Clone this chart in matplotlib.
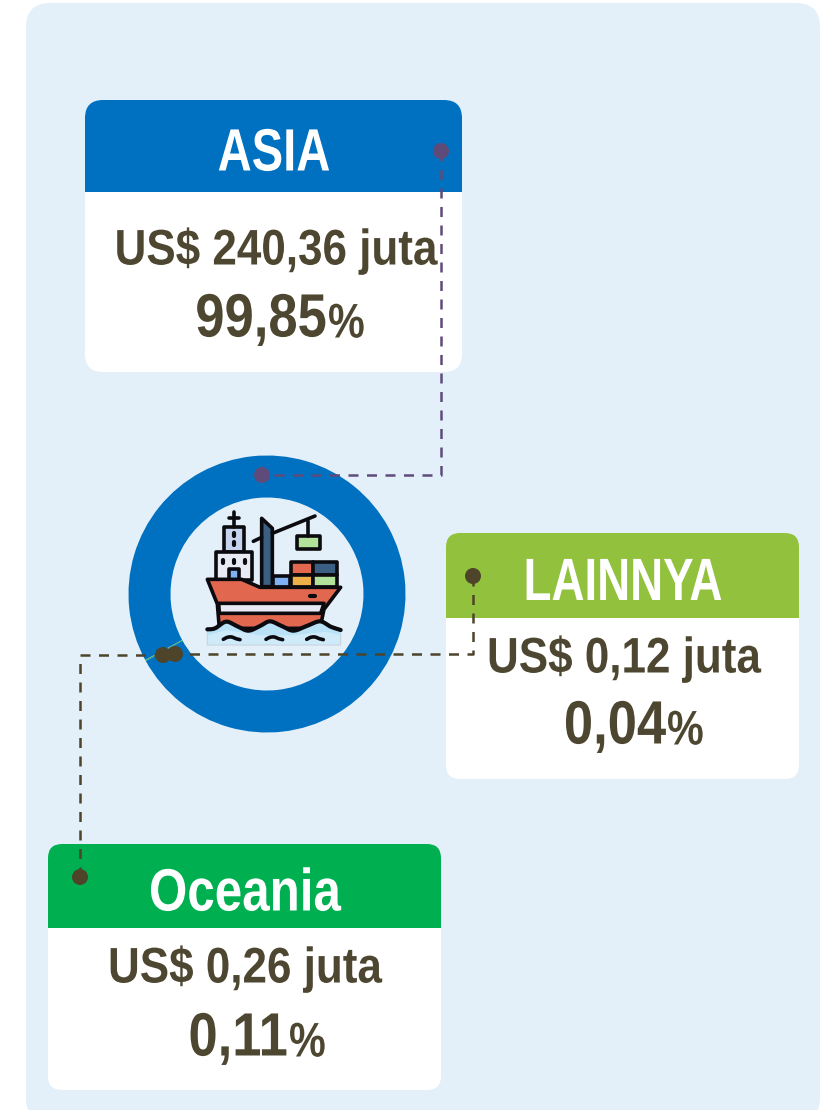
import numpy as np
import matplotlib
matplotlib.use('Agg')
import matplotlib.pyplot as plt
from matplotlib.patches import FancyBboxPatch, Rectangle, Polygon, Circle
from matplotlib.lines import Line2D
from matplotlib.patheffects import AbstractPathEffect
from matplotlib.transforms import Affine2D

# Data
regions = ['Oceania', 'LAINNYA', 'ASIA']
values = [0.26, 0.12, 240.36]
values_text = ['US$ 0,26 juta', 'US$ 0,12 juta', 'US$ 240,36 juta']
shares = ['0,11', '0,04', '99,85']
slice_colors = ['#00B050', '#92C13E', '#0070C0']

plt.rcParams['font.family'] = ['Liberation Sans', 'DejaVu Sans']

TEXT = '#4D4630'
DARK = '#4D4429'
PURPLE = '#5F4B7A'
BG = '#E3F0FA'
INK = '#0B0B0F'

fig = plt.figure(figsize=(8.21, 11.10), dpi=100)
ax = fig.add_axes([0, 0, 1, 1])
ax.set_xlim(0, 821)
ax.set_ylim(1110, 0)


class Squeeze(AbstractPathEffect):
    # the reference font is condensed, none is installed, so narrow the glyphs around x0
    def __init__(self, x0, s):
        super().__init__()
        self.x0 = ax.transData.transform((x0, 0))[0]
        self.s = s

    def draw_path(self, renderer, gc, tpath, affine, rgbFace=None):
        squeeze = Affine2D().translate(-self.x0, 0).scale(self.s, 1).translate(self.x0, 0)
        renderer.draw_path(gc, tpath, affine + squeeze, rgbFace)


def label(x, y, s, size, color, ha, squeeze):
    t = ax.text(x, y, s, color=color, fontsize=size, fontweight='bold', ha=ha, va='center', zorder=3)
    t.set_path_effects([Squeeze(x, squeeze)])


# background panel
ax.add_patch(FancyBboxPatch((26 + 24, 3 + 24), 794 - 48, 1119 - 48, boxstyle='round,pad=24,rounding_size=24',
                            fc=BG, ec='none', zorder=0))

# left, top, right, bottom, header bottom, radius, header x, header squeeze, value x, value y, share y, share x
cards = {
    'ASIA': (85, 100, 462, 372, 192, 18, 274, 0.79, 276, 251, 321, 327),
    'LAINNYA': (446, 533, 799, 779, 618, 14, 623, 0.765, 624, 659, 728, 666),
    'Oceania': (48, 844, 441, 1090, 928, 14, 245, 0.826, 245, 969, 1040, 288),
}

for i, name in enumerate(regions):
    l, t, r, b, hb, rad, hx, hs, vx, vy, sy, sx = cards[name]
    ax.add_patch(FancyBboxPatch((l + rad, t + rad), r - l - 2 * rad, b - t - 2 * rad,
                                boxstyle=f'round,pad={rad},rounding_size={rad}',
                                fc='white', ec='none', zorder=1))
    head = FancyBboxPatch((l + rad, t + rad), r - l - 2 * rad, b - t - 2 * rad,
                          boxstyle=f'round,pad={rad},rounding_size={rad}',
                          fc=slice_colors[i], ec='none', zorder=2)
    ax.add_patch(head)
    head.set_clip_path(Rectangle((l, t), r - l, hb - t, transform=ax.transData))
    label(hx, (t + hb) / 2 + 9, name, 43, 'white', 'center', hs)
    label(vx, vy, values_text[i], 36, TEXT, 'center', 0.88)
    label(sx, sy, shares[i], 44, TEXT, 'right', 0.86)
    label(sx + 1, sy + 4, '%', 35, TEXT, 'left', 0.85)

# donut
ax.pie(values, colors=slice_colors, startangle=151, counterclock=True, center=(267, 594), radius=138.5,
       wedgeprops=dict(width=42, edgecolor='none'), frame=True)
ax.set_xlim(0, 821)
ax.set_ylim(1110, 0)
ax.set_aspect('auto')
ax.axis('off')


def z(pts):
    # icon points are in 3x crop coordinates
    return [(120 + x / 3, 450 + y / 3) for x, y in pts]


def smooth(pts, n=12):
    # catmull-rom through the points, for the icon's wave
    p = np.array(pts, dtype=float)
    p = np.vstack([p[0], p, p[-1]])
    out = []
    for i in range(1, len(p) - 2):
        for u in np.linspace(0, 1, n, endpoint=False):
            out.append(0.5 * (2 * p[i] + (p[i + 1] - p[i - 1]) * u
                              + (2 * p[i - 1] - 5 * p[i] + 4 * p[i + 1] - p[i + 2]) * u ** 2
                              + (3 * p[i] - p[i - 1] - 3 * p[i + 1] + p[i + 2]) * u ** 3))
    out.append(p[-1])
    return [tuple(q) for q in out]


def poly(pts, fc, lw=2.6, ec=INK, zorder=5):
    ax.add_patch(Polygon(z(pts), closed=True, fc=fc, ec=ec, lw=lw, joinstyle='round', zorder=zorder))


def stroke(pts, lw=2.6, color=INK):
    xy = z(pts)
    ax.add_line(Line2D([p[0] for p in xy], [p[1] for p in xy], color=color, lw=lw,
                       solid_capstyle='round', solid_joinstyle='round', zorder=7))


# ship icon
poly([(312, 232), (372, 232), (372, 305), (312, 305)], '#C5D3EC')
poly([(288, 305), (396, 305), (396, 390), (288, 390)], '#E8EBF3')
poly([(328, 358), (358, 358), (358, 390), (328, 390)], '#7FB2F5')
poly([(425, 205), (457, 235), (457, 410), (425, 410)], '#3A5F82')
poly([(460, 378), (510, 378), (510, 410), (460, 410)], '#7FB2F5')
poly([(512, 335), (580, 335), (580, 375), (512, 375)], '#E2674F')
poly([(580, 335), (650, 335), (650, 375), (580, 375)], '#3A5F82')
poly([(512, 375), (580, 375), (580, 410), (512, 410)], '#EDAF48')
poly([(580, 375), (650, 375), (650, 410), (580, 410)], '#B2E29A')
poly([(530, 258), (600, 258), (600, 298), (530, 298)], '#B2E29A')
poly([(262, 388), (365, 388), (420, 412), (662, 412), (612, 478), (600, 535), (298, 535), (292, 462)], '#E2674F')
poly([(296, 460), (612, 460), (602, 490), (298, 490)], '#E8EBF3')

wave = [(262, 538), (285, 535), (318, 515), (350, 528), (385, 542), (420, 528), (450, 514),
        (485, 528), (520, 542), (560, 528), (600, 514), (632, 530), (662, 540)]
wave_smooth = smooth(wave)
poly(wave_smooth + [(662, 585), (262, 585)], '#CFEBFA', lw=0.8, ec='#C8D4DC', zorder=6)
poly(wave_smooth[:-1] + [(662, 556), (620, 545), (520, 556), (420, 556), (320, 540), (262, 556)],
     '#B9E2F7', lw=0, ec='none', zorder=6)

stroke(wave_smooth, lw=3)
stroke([(342, 185), (342, 232)])
stroke([(326, 205), (358, 205)])
stroke([(400, 274), (425, 262)])
stroke([(457, 250), (585, 198)])
stroke([(565, 212), (565, 258)])
stroke([(342, 250), (342, 258)], lw=3)
stroke([(342, 275), (342, 285)], lw=3)
for px in (310, 342, 374):
    stroke([(px, 330), (px, 338)], lw=3)
stroke([(570, 437), (586, 437)], lw=3)
for px in (310, 438, 560):
    stroke(smooth([(px, 568), (px + 12, 562), (px + 25, 561), (px + 38, 566), (px + 50, 569)], n=4))

# connector lines
dash = (0, (4, 3.4))
ax.add_line(Line2D([441, 441, 262], [151, 475, 475], color=PURPLE, lw=1.8, ls=dash, zorder=8))
ax.add_line(Line2D([473, 473, 175], [576, 654, 654], color=DARK, lw=1.8, ls=dash, zorder=8))
ax.add_line(Line2D([80, 80, 163], [877, 655, 655], color=DARK, lw=1.8, ls=dash, zorder=8))
for (x, y, c) in [(441, 151, PURPLE), (262, 475, PURPLE), (473, 576, DARK), (175, 654, DARK),
                  (163, 655, DARK), (80, 877, DARK)]:
    ax.add_patch(Circle((x, y), 8, fc=c, ec='none', zorder=9))

fig.savefig('out.png', dpi=100, facecolor='white')
